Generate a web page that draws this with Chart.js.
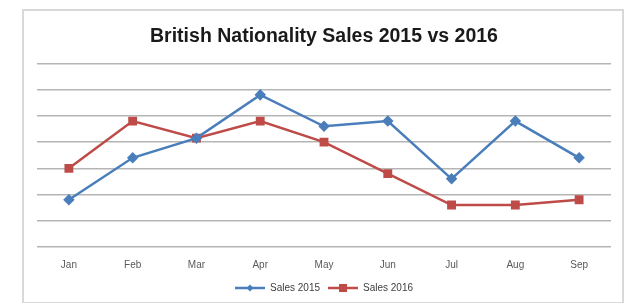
<!DOCTYPE html>
<html>
<head>
<meta charset="utf-8">
<script src="https://cdn.jsdelivr.net/npm/chart.js@4/dist/chart.umd.min.js"></script>
<style>
  html, body { margin: 0; padding: 0; background: #fff; }
  #wrap { position: relative; width: 625px; height: 303px; }
  #frame { position: absolute; left: 22px; top: 9px; width: 598px; height: 291px; border: 2px solid #d9d9d9; }
  canvas { position: absolute; left: 0; top: 0; }
</style>
</head>
<body>
<div id="wrap">
  <div id="frame"></div>
  <canvas id="salesChart" width="625" height="303"></canvas>
</div>
<script>
// values (no axis labels in the original, so units are relative)
const months = ["Jan", "Feb", "Mar", "Apr", "May", "Jun", "Jul", "Aug", "Sep"];
const sales2015 = [18, 34, 41.5, 58, 46, 48, 26, 48, 34];
const sales2016 = [30, 48, 41.5, 48, 40, 28, 16, 16, 18];

const blue = "#4a7ebb";
const red = "#be4b48";

// little line+marker swatch for the legend, like Excel draws it
function swatch(color, shape) {
  const c = document.createElement("canvas");
  c.width = 30; c.height = 10;
  const g = c.getContext("2d");
  g.strokeStyle = color;
  g.fillStyle = color;
  g.lineWidth = 2.5;
  g.beginPath(); g.moveTo(0, 5); g.lineTo(30, 5); g.stroke();
  if (shape === "diamond") {
    g.beginPath(); g.moveTo(15, 1.5); g.lineTo(18.5, 5); g.lineTo(15, 8.5); g.lineTo(11.5, 5); g.closePath(); g.fill();
  } else {
    g.fillRect(11, 1, 8, 8);
  }
  return c;
}
const swatches = [swatch(blue, "diamond"), swatch(red, "square")];

new Chart(document.getElementById("salesChart"), {
  type: "line",
  data: {
    labels: months,
    datasets: [
      {
        label: "Sales 2015",
        data: sales2015,
        borderColor: blue,
        backgroundColor: blue,
        borderWidth: 2.5,
        pointStyle: "rectRot",
        pointRadius: 4,
        tension: 0
      },
      {
        label: "Sales 2016",
        data: sales2016,
        borderColor: red,
        backgroundColor: red,
        borderWidth: 2.5,
        pointStyle: "rect",
        pointRadius: 4.5,
        tension: 0
      }
    ]
  },
  options: {
    responsive: false,
    animation: false,
    layout: { padding: { left: 37, right: 14, top: 25, bottom: 0 } },
    plugins: {
      title: {
        display: true,
        text: "British Nationality Sales 2015 vs 2016",
        color: "#1a1a1a",
        font: { family: "Liberation Sans", size: 19.5, weight: "bold" },
        padding: { top: 0, bottom: 15 }
      },
      legend: {
        position: "bottom",
        labels: {
          color: "#404040",
          font: { family: "Liberation Sans", size: 10 },
          usePointStyle: true,
          pointStyleWidth: 30,
          boxHeight: 10,
          padding: 8,
          generateLabels: (chart) => chart.data.datasets.map((ds, i) => ({
            text: ds.label,
            pointStyle: swatches[i],
            fontColor: "#404040",
            datasetIndex: i,
            hidden: false,
            lineWidth: 0
          }))
        }
      },
      tooltip: { enabled: false }
    },
    scales: {
      x: {
        offset: true,
        grid: { display: false },
        border: { display: false },
        ticks: { color: "#595959", font: { family: "Liberation Sans", size: 10 }, padding: 4 }
      },
      y: {
        min: 0,
        max: 70,
        ticks: { display: false, stepSize: 10 },
        border: { display: false },
        grid: { color: "#b5b5b5", lineWidth: 1.5, drawTicks: false }
      }
    }
  }
});
</script>
</body>
</html>
